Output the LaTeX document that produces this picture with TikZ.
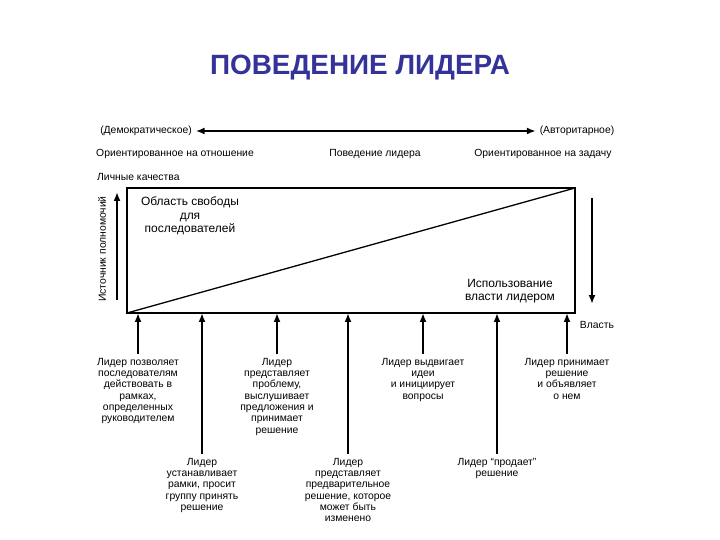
\documentclass[tikz,border=0pt]{standalone}
\usepackage{fontspec}
\setmainfont{Liberation Sans}
\usetikzlibrary{arrows.meta}
\definecolor{titleblue}{RGB}{51,51,153}
\tikzset{
    label/.style={font=\fontsize{10.4}{12}\selectfont, inner sep=1pt},
    inside/.style={font=\fontsize{12}{13.5}\selectfont, align=center, inner sep=0pt},
    note/.style={font=\fontsize{10.4}{11.4}\selectfont, align=center, inner sep=0pt, outer sep=4pt, anchor=north},
    push/.style={line width=2.4pt, -{Latex[length=9pt,width=7pt]}},
}

\begin{document}
\begin{tikzpicture}[x=1bp, y=-1bp]
        \useasboundingbox (0,0) rectangle (720,540);
        \node[font=\bfseries\fontsize{28}{31}\selectfont, text=titleblue] (title) at (360,68) {ПОВЕДЕНИЕ ЛИДЕРА};

        % Header rows
        \node[label, outer sep=3pt] (demo) at (146,131) {(Демократическое)};
        \node[label, outer sep=3pt] (auto) at (577,131) {(Авторитарное)};
        \draw[line width=2.4pt, {Latex[length=9pt,width=7pt]}-{Latex[length=9pt,width=7pt]}] (demo) -- (auto);
        \node[label] (rel) at (175,154) {Ориентированное на отношение};
        \node[label] (beh) at (375,154) {Поведение лидера};
        \node[label] (task) at (543,154) {Ориентированное на задачу};
        \node[label, anchor=west] (pers) at (96,177) {Личные качества};

        % Box and diagonal
        \coordinate (BL) at (127,313);          % bottom left
        \coordinate (TR) at (575,188);          % top right
        \draw[line width=1.6pt] (BL) rectangle (TR);
        \draw[line width=1.3pt] (BL) -- (TR);
        \node[inside] (free) at (190,216) {Область свободы\\для\\последователей};
        \node[inside] (use) at (510,291) {Использование\\власти лидером};

        % Side arrows
        \coordinate (srcA) at (117,300);
        \coordinate (srcB) at (117,192);
        \draw[push] (srcA) -- (srcB);
        \node[label, rotate=90] (src) at (102,249) {Источник полномочий};
        \coordinate (powA) at (592,198);
        \coordinate (powB) at (592,304);
        \draw[push] (powA) -- (powB);
        \node[label] (pow) at (597,325) {Власть};

        % Leader behaviours
        \node[note] (b1) at (138,354) {Лидер позволяет\\последователям\\действовать в\\рамках,\\определенных\\руководителем};
        \node[note] (b2) at (202,454) {Лидер\\устанавливает\\рамки, просит\\группу принять\\решение};
        \node[note] (b3) at (277,354) {Лидер\\представляет\\проблему,\\выслушивает\\предложения и\\принимает\\решение};
        \node[note] (b4) at (348,454) {Лидер\\представляет\\предварительное\\решение, которое\\может быть\\изменено};
        \node[note] (b5) at (423,354) {Лидер выдвигает\\идеи\\и инициирует\\вопросы};
        \node[note] (b6) at (497,454) {Лидер ``продает''\\решение};
        \node[note] (b7) at (567,354) {Лидер принимает\\решение\\и объявляет\\о нем};
        \foreach \b in {b1,b2,b3,b4,b5,b6,b7}
            \draw[push] (\b.north) -- (\b.north |- BL);
    \end{tikzpicture}
\end{document}
